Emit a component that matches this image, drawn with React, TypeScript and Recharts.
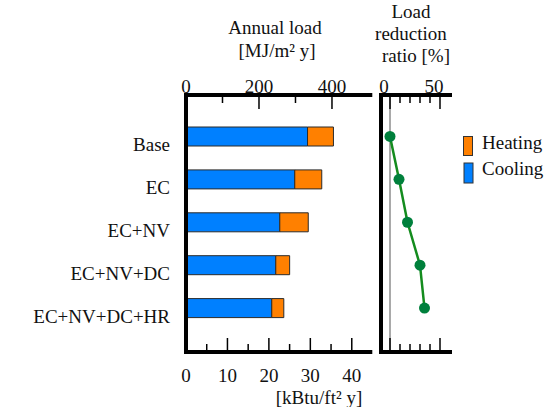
import {
  Bar, ComposedChart, Line, ReferenceLine, XAxis, YAxis,
} from 'recharts';

const FONT = 'Liberation Serif, Times New Roman, Tinos, DejaVu Serif, Noto Serif, serif';
const COOL = '#0080ff';
const HEAT = '#ff8000';

const scenarios = ['Base', 'EC', 'EC+NV', 'EC+NV+DC', 'EC+NV+DC+HR'];
const cooling = [333, 298, 257, 246, 235];
const heating = [71, 74, 78, 38, 33];
const reduction = [0, 9, 17.5, 30, 34.5];

const mjTicks = [0, 100, 200, 300, 400];
const mjLabels = [0, 200, 400];
const kbtuTicks = [0, 5, 10, 15, 20, 25, 30, 35, 40];
const kbtuLabels = [0, 10, 20, 30, 40];
const pctTicks = [0, 10, 20, 30, 40, 50];
const pctLabels = [0, 50];

const MJ_MAX = 505;
const MJ_PER_KBTU = 11.356;

const data = scenarios.map((name, i) => ({
  name,
  cooling: cooling[i],
  heating: heating[i],
  ratio: reduction[i],
}));

const W = 553;
const H = 407;
const PAD = { top: 20, bottom: 22.5 };
const frame = { stroke: '#000', strokeWidth: 4, strokeLinecap: 'square' as const };

function topTick(labels: number[], dx = 0) {
  return (p: any) => {
    const v = p.payload.value;
    const len = labels.includes(v) ? 14 : 8;
    return (
      <g>
        <line x1={p.x} x2={p.x} y1={p.y} y2={p.y + len} stroke="#000" strokeWidth={1.5} />
        {labels.includes(v) && (
          <text x={p.x + dx} y={p.y - 2.5} textAnchor="middle" fontSize={19} style={{ fontFamily: FONT }} fill="#111">
            {v}
          </text>
        )}
      </g>
    );
  };
}

function bottomTick(labels: number[], majors: number[], showText: boolean) {
  return (p: any) => {
    const v = p.payload.value;
    const len = majors.includes(v) ? 14 : 8;
    return (
      <g>
        <line x1={p.x} x2={p.x} y1={p.y} y2={p.y - len} stroke="#000" strokeWidth={1.5} />
        {showText && labels.includes(v) && (
          <text x={p.x} y={p.y + 30} textAnchor="middle" fontSize={19} style={{ fontFamily: FONT }} fill="#111">
            {v}
          </text>
        )}
      </g>
    );
  };
}

const catTick = (p: any) => (
  <text x={p.x - 16} y={p.y + 15} textAnchor="end" fontSize={19} style={{ fontFamily: FONT }} fill="#111">
    {p.payload.value}
  </text>
);

function LoadChart() {
  return (
    <ComposedChart
      layout="vertical"
      width={W}
      height={H}
      data={data}
      margin={{ top: 0, right: W - 370.3, bottom: 0, left: 0 }}
    >
      <XAxis
        xAxisId="mj" type="number" orientation="top" domain={[0, MJ_MAX]} ticks={mjTicks}
        interval={0} height={95} tickSize={0} tickMargin={0} axisLine={frame}
        tickLine={false} tick={topTick(mjLabels)} allowDataOverflow
      />
      <XAxis
        xAxisId="kbtu" type="number" orientation="bottom" domain={[0, MJ_MAX / MJ_PER_KBTU]}
        ticks={kbtuTicks} interval={0} height={55} tickSize={0} tickMargin={0} axisLine={frame}
        tickLine={false} tick={bottomTick(kbtuLabels, [10, 20, 30, 40], true)} allowDataOverflow
      />
      <YAxis
        yAxisId="cat" type="category" dataKey="name" width={186} padding={PAD}
        tickSize={0} tickMargin={0} axisLine={frame} tickLine={false} tick={catTick} interval={0}
      />
      <YAxis
        yAxisId="frameR" type="category" dataKey="name" orientation="right" width={0}
        padding={PAD} axisLine={frame} tickLine={false} tick={false}
      />
      <Bar xAxisId="mj" yAxisId="cat" dataKey="cooling" stackId="load" fill={COOL}
        stroke="#2b2b2b" strokeWidth={1} barSize={19} isAnimationActive={false} />
      <Bar xAxisId="mj" yAxisId="cat" dataKey="heating" stackId="load" fill={HEAT}
        stroke="#2b2b2b" strokeWidth={1} barSize={19} isAnimationActive={false} />
    </ComposedChart>
  );
}

function RatioChart() {
  return (
    <ComposedChart
      layout="vertical"
      width={W}
      height={H}
      data={data}
      margin={{ top: 0, right: W - 450, bottom: 0, left: 0 }}
    >
      <XAxis
        xAxisId="pct" type="number" orientation="top" domain={[-9, 60]} ticks={pctTicks}
        interval={0} height={95} tickSize={0} tickMargin={0} axisLine={frame}
        tickLine={false} tick={topTick(pctLabels, -6)} allowDataOverflow
      />
      <XAxis
        xAxisId="pctB" type="number" orientation="bottom" domain={[-9, 60]} ticks={pctTicks}
        interval={0} height={55} tickSize={0} tickMargin={0} axisLine={frame}
        tickLine={false} tick={bottomTick(pctLabels, [0, 50], false)} allowDataOverflow
      />
      <YAxis
        yAxisId="cat" type="category" scale="band" dataKey="name" width={381} padding={PAD}
        axisLine={frame} tickLine={false} tick={false}
      />
      <YAxis
        yAxisId="frameR" type="category" scale="band" dataKey="name" orientation="right" width={0}
        padding={PAD} axisLine={frame} tickLine={false} tick={false}
      />
      <ReferenceLine xAxisId="pct" yAxisId="cat" x={0} stroke="#555" strokeWidth={1} />
      <Line
        xAxisId="pct" yAxisId="cat" dataKey="ratio" stroke="#148c1e" strokeWidth={2.5}
        dot={{ r: 5.5, fill: '#00803c', stroke: '#00803c', strokeWidth: 0 }}
        isAnimationActive={false}
      />
    </ComposedChart>
  );
}

function Titles() {
  const t = { fontSize: 19, style: { fontFamily: FONT }, fill: '#111', textAnchor: 'middle' as const };
  return (
    <svg width={W} height={H} style={{ position: 'absolute', left: 0, top: 0, pointerEvents: 'none' }}>
      <text x={275} y={34} {...t}>Annual load</text>
      <text x={277} y={57} {...t}>[MJ/m² y]</text>
      <text x={411} y={17.5} {...t}>Load</text>
      <text x={411} y={39.5} {...t}>reduction</text>
      <text x={416} y={61.5} {...t}>ratio [%]</text>
      <text x={319} y={404} {...t}>[kBtu/ft² y]</text>
      <rect x={463.5} y={136.5} width={9} height={19} fill={HEAT} stroke="#333" strokeWidth={1} />
      <rect x={464} y={163} width={9} height={20} fill={COOL} stroke="#333" strokeWidth={1} />
      <text x={482} y={148.5} fontSize={19} style={{ fontFamily: FONT }} fill="#111">Heating</text>
      <text x={482} y={175} fontSize={19} style={{ fontFamily: FONT }} fill="#111">Cooling</text>
    </svg>
  );
}

export default function App() {
  return (
    <div style={{ position: 'absolute', left: 0, top: 0, width: W, height: H, background: '#fff' }}>
      <div style={{ position: 'absolute', left: 0, top: 0 }}><LoadChart /></div>
      <div style={{ position: 'absolute', left: 0, top: 0 }}><RatioChart /></div>
      <Titles />
    </div>
  );
}
